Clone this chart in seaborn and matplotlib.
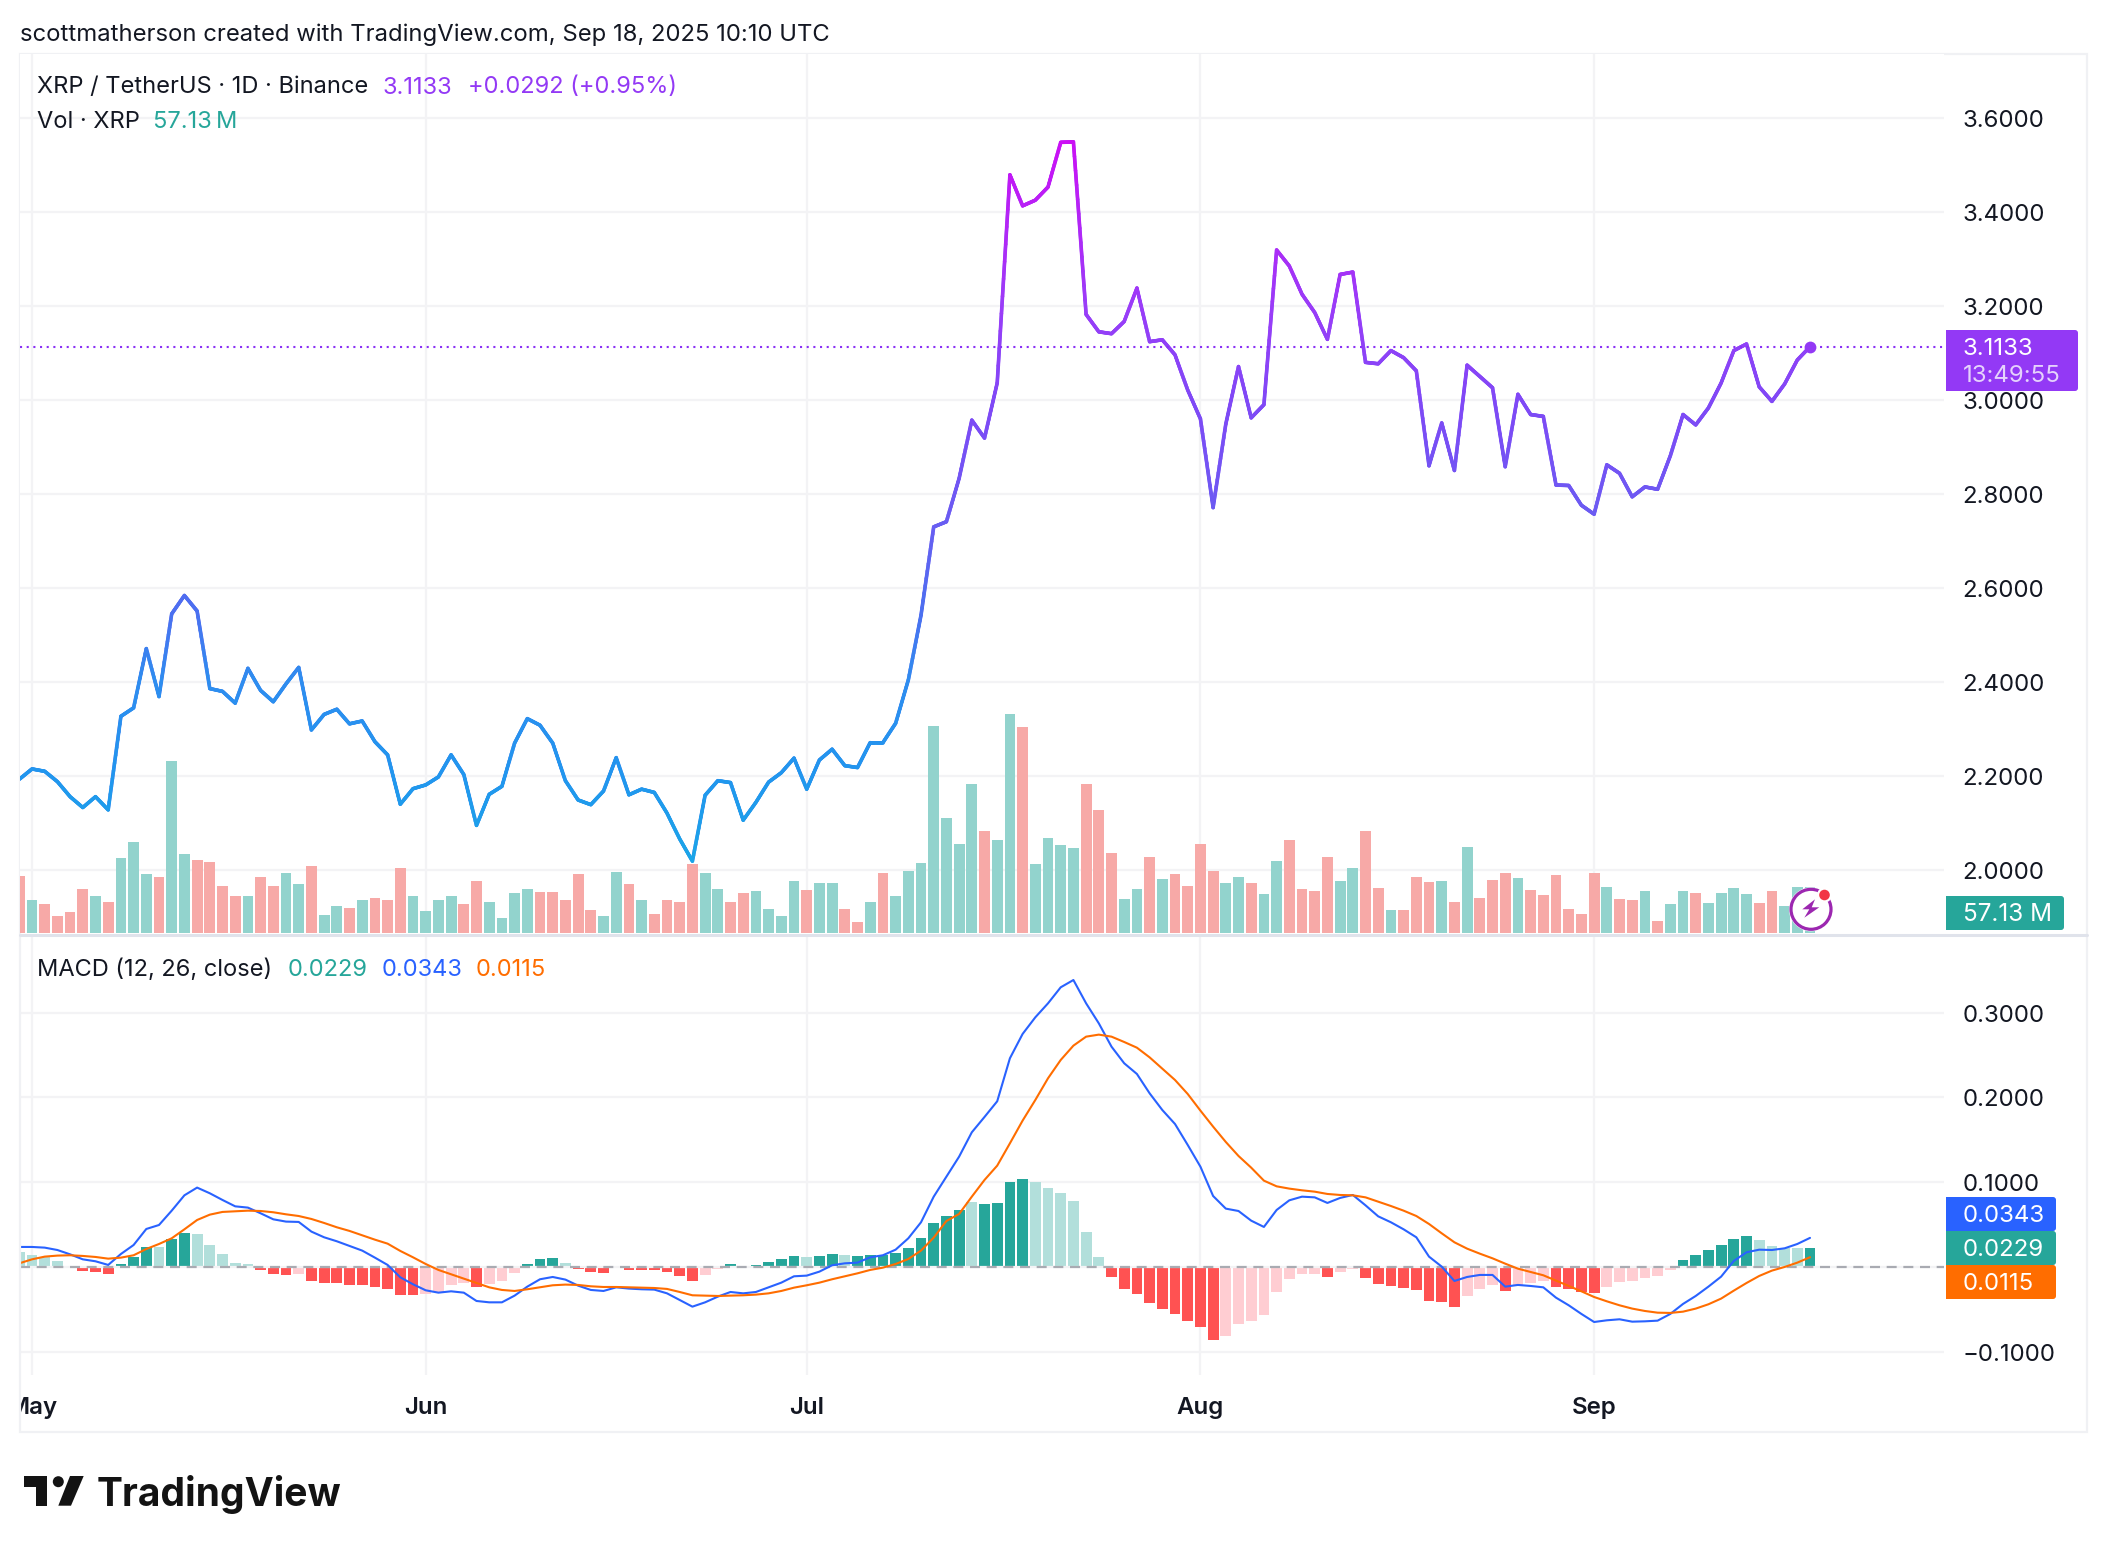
import matplotlib
matplotlib.use("Agg")

import matplotlib.pyplot as plt
import numpy as np
import pandas as pd
import seaborn as sns
from matplotlib.collections import LineCollection
from matplotlib.colors import LinearSegmentedColormap
from matplotlib.lines import Line2D
from matplotlib.patches import Circle, FancyBboxPatch, Polygon, Rectangle
from matplotlib.transforms import Affine2D, Bbox, blended_transform_factory

# daily values, first row starts Apr 30 2025
closes = [
    2.193, 2.215, 2.210, 2.188, 2.156, 2.133, 2.156, 2.128, 2.327, 2.345,
    2.471, 2.369, 2.545, 2.584, 2.551, 2.386, 2.380, 2.355, 2.429, 2.382,
    2.358, 2.396, 2.431, 2.298, 2.331, 2.342, 2.311, 2.317, 2.273, 2.245,
    2.140, 2.173, 2.181, 2.198, 2.245, 2.203, 2.095, 2.161, 2.178, 2.270,
    2.322, 2.308, 2.270, 2.190, 2.149, 2.139, 2.168, 2.239, 2.160, 2.172,
    2.165, 2.121, 2.066, 2.019, 2.159, 2.190, 2.186, 2.106, 2.144, 2.187,
    2.207, 2.238, 2.172, 2.234, 2.257, 2.222, 2.218, 2.271, 2.271, 2.312,
    2.404, 2.542, 2.730, 2.741, 2.833, 2.957, 2.919, 3.036, 3.479, 3.413,
    3.425, 3.453, 3.548, 3.549, 3.182, 3.145, 3.141, 3.167, 3.238, 3.124,
    3.128, 3.096, 3.021, 2.960, 2.771, 2.949, 3.071, 2.962, 2.990, 3.319,
    3.285, 3.225, 3.186, 3.129, 3.267, 3.272, 3.080, 3.077, 3.105, 3.090,
    3.062, 2.860, 2.951, 2.850, 3.074, 3.050, 3.026, 2.858, 3.012, 2.969,
    2.965, 2.819, 2.818, 2.776, 2.757, 2.862, 2.844, 2.794, 2.815, 2.810,
    2.881, 2.969, 2.947, 2.983, 3.036, 3.105, 3.119, 3.028, 2.997, 3.034,
    3.085, 3.1133,
]
volumes = [
    71, 41, 36, 21, 26, 54, 46, 39, 93, 113,
    73, 69, 213, 98, 90, 88, 58, 46, 46, 69,
    58, 74, 61, 83, 22, 34, 31, 41, 43, 41,
    81, 46, 27, 41, 46, 36, 64, 39, 18, 49,
    54, 51, 51, 41, 73, 29, 21, 76, 61, 41,
    24, 41, 38, 86, 74, 55, 39, 50, 52, 30,
    21, 64, 53, 62, 62, 30, 14, 39, 74, 46,
    77, 87, 257, 143, 110, 185, 127, 115, 271, 255,
    86, 118, 109, 105, 185, 153, 99, 42, 55, 94,
    67, 73, 58, 110, 77, 62, 69, 62, 48, 89,
    115, 55, 52, 94, 65, 81, 126, 56, 28, 28,
    69, 63, 64, 39, 107, 44, 66, 74, 68, 53,
    47, 72, 30, 24, 75, 57, 42, 41, 52, 15,
    36, 52, 49, 37, 49, 56, 48, 37, 52, 33,
    57, 57.13,
]
volume_side = list(
    "rgrrrrgrgg" "grggrrrrgr" "rggrggrgrr" "rggggrrggg" "grrrrrggrg"
    "rrrrggrrgg" "ggrggrrgrg" "ggggggrggr" "ggggrrrggr" "grrrrggrgg"
    "rrrrggrrgr" "rrgrgrrrgr" "rrrrrgrrgr" "ggrggggrrg" "gg"
)

macd_line = [
    0.0236, 0.0236, 0.0228, 0.0200, 0.0149, 0.0090, 0.0067, 0.0024, 0.0153, 0.0259,
    0.0448, 0.0495, 0.0664, 0.0845, 0.0936, 0.0869, 0.0790, 0.0715, 0.0700, 0.0633,
    0.0562, 0.0535, 0.0531, 0.0417, 0.0350, 0.0303, 0.0248, 0.0193, 0.0110, 0.0024,
    -0.0122, -0.0204, -0.0275, -0.0303, -0.0287, -0.0303, -0.0401, -0.0417, -0.0417, -0.0338,
    -0.0232, -0.0145, -0.0118, -0.0149, -0.0220, -0.0271, -0.0283, -0.0240, -0.0255, -0.0263,
    -0.0267, -0.0311, -0.0389, -0.0468, -0.0417, -0.0350, -0.0295, -0.0311, -0.0295, -0.0240,
    -0.0185, -0.0110, -0.0102, -0.0055, 0.0020, 0.0043, 0.0051, 0.0114, 0.0138, 0.0204,
    0.0338, 0.0527, 0.0829, 0.1065, 0.1301, 0.1588, 0.1769, 0.1954, 0.2461, 0.2748,
    0.2944, 0.3109, 0.3298, 0.3384, 0.3109, 0.2873, 0.2598, 0.2402, 0.2276, 0.2048,
    0.1851, 0.1686, 0.1439, 0.1183, 0.0837, 0.0688, 0.0660, 0.0546, 0.0472, 0.0672,
    0.0786, 0.0829, 0.0821, 0.0755, 0.0814, 0.0849, 0.0727, 0.0597, 0.0527, 0.0444,
    0.0350, 0.0122, 0.0004, -0.0165, -0.0118, -0.0094, -0.0094, -0.0232, -0.0212, -0.0224,
    -0.0240, -0.0362, -0.0452, -0.0554, -0.0649, -0.0629, -0.0617, -0.0645, -0.0641, -0.0633,
    -0.0554, -0.0436, -0.0342, -0.0232, -0.0114, 0.0071, 0.0173, 0.0204, 0.0200, 0.0220,
    0.0271, 0.0343,
]
signal_line = [
    0.0043, 0.0090, 0.0122, 0.0134, 0.0138, 0.0130, 0.0118, 0.0098, 0.0110, 0.0138,
    0.0212, 0.0271, 0.0338, 0.0444, 0.0554, 0.0617, 0.0649, 0.0656, 0.0664, 0.0660,
    0.0645, 0.0621, 0.0601, 0.0566, 0.0519, 0.0468, 0.0425, 0.0373, 0.0322, 0.0275,
    0.0189, 0.0114, 0.0035, -0.0035, -0.0086, -0.0138, -0.0189, -0.0240, -0.0271, -0.0283,
    -0.0263, -0.0240, -0.0216, -0.0208, -0.0212, -0.0228, -0.0236, -0.0236, -0.0240, -0.0244,
    -0.0248, -0.0259, -0.0295, -0.0334, -0.0338, -0.0342, -0.0338, -0.0334, -0.0326, -0.0311,
    -0.0283, -0.0244, -0.0216, -0.0185, -0.0145, -0.0110, -0.0075, -0.0035, -0.0008, 0.0035,
    0.0094, 0.0193, 0.0346, 0.0542, 0.0625, 0.0829, 0.1026, 0.1195, 0.1458, 0.1726,
    0.1969, 0.2225, 0.2441, 0.2610, 0.2716, 0.2740, 0.2716, 0.2653, 0.2586, 0.2472,
    0.2339, 0.2205, 0.2040, 0.1844, 0.1655, 0.1474, 0.1309, 0.1171, 0.1018, 0.0951,
    0.0924, 0.0904, 0.0888, 0.0861, 0.0849, 0.0845, 0.0821, 0.0770, 0.0719, 0.0664,
    0.0601, 0.0507, 0.0397, 0.0291, 0.0216, 0.0157, 0.0102, 0.0039, -0.0020, -0.0059,
    -0.0098, -0.0161, -0.0224, -0.0287, -0.0354, -0.0405, -0.0452, -0.0491, -0.0519, -0.0539,
    -0.0542, -0.0527, -0.0491, -0.0440, -0.0373, -0.0279, -0.0189, -0.0106, -0.0043, 0.0000,
    0.0051, 0.0115,
]
histogram = [
    0.0177, 0.0142, 0.0114, 0.0071, 0.0005, -0.0047, -0.0059, -0.0083, 0.0035, 0.0118,
    0.0236, 0.0236, 0.0330, 0.0401, 0.0389, 0.0259, 0.0153, 0.0051, 0.0035, -0.0035,
    -0.0083, -0.0094, -0.0083, -0.0165, -0.0189, -0.0189, -0.0212, -0.0212, -0.0236, -0.0259,
    -0.0330, -0.0330, -0.0318, -0.0295, -0.0212, -0.0189, -0.0236, -0.0200, -0.0165, -0.0071,
    0.0035, 0.0094, 0.0106, 0.0047, -0.0024, -0.0059, -0.0071, -0.0008, -0.0035, -0.0035,
    -0.0035, -0.0059, -0.0106, -0.0165, -0.0094, -0.0024, 0.0035, 0.0012, 0.0024, 0.0059,
    0.0094, 0.0130, 0.0118, 0.0130, 0.0153, 0.0142, 0.0130, 0.0142, 0.0142, 0.0165,
    0.0224, 0.0342, 0.0519, 0.0601, 0.0672, 0.0767, 0.0743, 0.0755, 0.1002, 0.1038,
    0.1002, 0.0932, 0.0873, 0.0778, 0.0413, 0.0118, -0.0118, -0.0259, -0.0318, -0.0425,
    -0.0495, -0.0554, -0.0637, -0.0708, -0.0861, -0.0814, -0.0672, -0.0637, -0.0566, -0.0295,
    -0.0142, -0.0083, -0.0083, -0.0118, -0.0059, -0.0024, -0.0130, -0.0200, -0.0224, -0.0248,
    -0.0271, -0.0401, -0.0413, -0.0472, -0.0342, -0.0259, -0.0212, -0.0283, -0.0212, -0.0189,
    -0.0165, -0.0236, -0.0259, -0.0295, -0.0307, -0.0236, -0.0177, -0.0165, -0.0130, -0.0106,
    -0.0035, 0.0083, 0.0142, 0.0200, 0.0259, 0.0330, 0.0366, 0.0318, 0.0248, 0.0224,
    0.0224, 0.0229,
]
histogram_shade = list(
    "lllllrrrgg" "glgglllllr" "rrprrrrrrr" "rrppppr" "pppgggl" "rrrprr" "rrrrppglgg"
    "gglgglgggg" "ggggglggg" "g" "llllllrrrr" "rrrrrppppp" "ppprpprrrr"
    "rrrrppprpp" "prrrrppppp" "pggggggl" "ll" "lg"
)

price_ticks = [2.0, 2.2, 2.4, 2.6, 2.8, 3.0, 3.2, 3.4, 3.6]
macd_ticks = [-0.1, 0.1, 0.2, 0.3]
month_labels = ["May", "Jun", "Jul", "Aug", "Sep"]
month_starts = ["2025-05-01", "2025-06-01", "2025-07-01", "2025-08-01", "2025-09-01"]

W, H = 2108, 1552
INK = "#131722"
GRID = "#F3F3F5"
FRAME = "#F0F1F4"
PURPLE = "#9339F5"
TEAL = "#26A69A"
BLUE = "#2962FF"
ORANGE = "#FF6D00"

sns.set_theme(style="white")
plt.rcParams["font.family"] = ["Inter", "DejaVu Sans"]

first_day = pd.Timestamp("2025-04-30")
may_first = pd.Timestamp("2025-05-01")
days = (pd.date_range(first_day, periods=len(closes)) - may_first).days.to_numpy()
month_days = [(pd.Timestamp(m) - may_first).days for m in month_starts]

price_df = pd.DataFrame({"day": days, "close": closes})
volume_df = pd.DataFrame({"day": days, "volume": volumes, "side": volume_side})
macd_df = pd.DataFrame({
    "day": days,
    "macd": macd_line,
    "signal": signal_line,
    "hist": histogram,
    "shade": histogram_shade,
})

fig = plt.figure(figsize=(W / 100, H / 100), dpi=100, facecolor="white")
# overlay coordinates: image pixels, y going down
px = Affine2D().scale(1, -1).translate(0, H)


def rect(x0, y0, x1, y1):
    return [x0 / W, 1 - y1 / H, (x1 - x0) / W, (y1 - y0) / H]


ax_vol = fig.add_axes(rect(20, 54, 1944, 933))
ax_price = fig.add_axes(rect(20, 54, 1944, 933), sharex=ax_vol)
ax_macd = fig.add_axes(rect(20, 936, 1944, 1375), sharex=ax_vol)
ax_vol.set_zorder(1)
ax_price.set_zorder(2)
ax_price.patch.set_visible(False)

x_range = (-0.945, 150.55)

# volume
sns.barplot(
    data=volume_df, x="day", y="volume", hue="side", native_scale=True, dodge=False,
    palette={"g": "#92D3CD", "r": "#F7A9A7"}, saturation=1, width=0.85, linewidth=0,
    legend=False, errorbar=None, ax=ax_vol,
)
ax_vol.set_ylim(0, 1090)
ax_vol.set_yticks([])

# price line, coloured by level
ax_price.set_ylim(1.866, 3.736)
sns.lineplot(data=price_df, x="day", y="close", color="#7A4FF5", linewidth=2.3, ax=ax_price)
price_cmap = LinearSegmentedColormap.from_list(
    "price",
    [(0.0, "#1AA5E8"), (0.118, "#2196EE"), (0.25, "#2E8DEF"), (0.346, "#4B70F0"),
     (0.477, "#6A5CF2"), (0.64, "#8048F6"), (0.77, "#9A3CF8"), (1.0, "#CC0FF5")],
)
seg_x, seg_y = [], []
for i in range(len(days) - 1):
    seg_x.extend(np.linspace(days[i], days[i + 1], 13)[:-1])
    seg_y.extend(np.linspace(closes[i], closes[i + 1], 13)[:-1])
seg_x.append(days[-1])
seg_y.append(closes[-1])
points = np.column_stack([seg_x, seg_y])
segments = np.stack([points[:-1], points[1:]], axis=1)
gradient = LineCollection(segments, cmap=price_cmap, linewidths=2.6, capstyle="round")
gradient.set_array((segments[:, :, 1].mean(axis=1) - 2.02) / (3.55 - 2.02))
gradient.set_clim(0, 1)
ax_price.add_collection(gradient)
ax_price.axhline(closes[-1], color="#8A30F5", linewidth=1.5, linestyle=(0, (1, 2.2)))
ax_price.plot(days[-1], closes[-1], "o", color=PURPLE, markersize=8.5, markeredgewidth=0)
ax_price.set_yticks(price_ticks, [f"{p:.4f}" for p in price_ticks])

# macd pane
ax_macd.set_ylim(-0.1274, 0.3903)
sns.barplot(
    data=macd_df, x="day", y="hist", hue="shade", native_scale=True, dodge=False,
    palette={"g": TEAL, "l": "#B2DFDB", "r": "#FF5252", "p": "#FFCDD2"}, saturation=1,
    width=0.85, linewidth=0, legend=False, errorbar=None, ax=ax_macd,
)
ax_macd.axhline(0, color=GRID, linewidth=1.6, zorder=1)
ax_macd.axhline(0, color="#787B86", alpha=0.6, linewidth=1.6, linestyle=(0, (4.5, 3)), zorder=3)
sns.lineplot(data=macd_df, x="day", y="macd", color=BLUE, linewidth=1.5, ax=ax_macd, zorder=4)
sns.lineplot(data=macd_df, x="day", y="signal", color=ORANGE, linewidth=1.5, ax=ax_macd, zorder=5)
ax_macd.set_yticks(macd_ticks, ["\u22120.1000" if t < 0 else f"{t:.4f}" for t in macd_ticks])
ax_macd.set_xticks(month_days, month_labels)

# grid: the price grid goes on the volume axes so bars sit on top of it
level_tf = blended_transform_factory(ax_vol.transAxes, ax_price.transData)
for p in price_ticks:
    ax_vol.add_line(Line2D([0, 1], [p, p], transform=level_tf, color=GRID, linewidth=1.6, zorder=0))
for ax in (ax_vol, ax_macd):
    for d in month_days:
        ax.axvline(d, color=GRID, linewidth=1.6, zorder=0)
for t in macd_ticks:
    ax_macd.axhline(t, color=GRID, linewidth=1.6, zorder=0)

for ax in (ax_vol, ax_price, ax_macd):
    ax.set_xlim(*x_range)
    ax.set_xlabel("")
    ax.set_ylabel("")
    sns.despine(ax=ax, left=True, bottom=True, right=True, top=True)
    ax.yaxis.tick_right()
    ax.tick_params(axis="y", length=0, pad=13.5, labelsize=17.3, labelcolor=INK)
    for lab in ax.get_yticklabels():
        lab.set_transform(lab.get_transform() + Affine2D().translate(0, -0.5))
ax_price.tick_params(axis="x", length=0, labelbottom=False)
ax_vol.tick_params(axis="x", length=0, labelbottom=False)
ax_macd.tick_params(axis="x", length=0, pad=15.8, labelsize=17.3, labelcolor=INK)
for lab in ax_macd.get_xticklabels():
    lab.set_fontweight("semibold")
    lab.set_clip_box(Bbox([[20, 0], [W, H]]))
    lab.set_clip_on(True)

# frame and pane divider
fig.add_artist(Rectangle((20, 54), 2067, 1378, transform=px, fill=False, edgecolor=FRAME, linewidth=1.6))
fig.add_artist(Line2D([20, 2087], [934.5, 934.5], transform=px, color="#E0E3EB", linewidth=2.2))


def text(x, y, s, color=INK, size=17, **kw):
    fig.text(x, y, s, transform=px, color=color, fontsize=size, va="center", **kw)


def price_box(x1, y0, y1, color):
    fig.add_artist(FancyBboxPatch((1946, y0), x1 - 1946, y1 - y0, boxstyle="round,pad=0,rounding_size=3",
                                  transform=px, facecolor=color, edgecolor="none", zorder=1.5))
    fig.add_artist(Rectangle((1946, y0), 8, y1 - y0, transform=px, facecolor=color, edgecolor="none", zorder=1.5))


# header and legends
text(20, 34.5, "scottmatherson created with TradingView.com, Sep 18, 2025 10:10 UTC", size=17.17)
text(37, 87.5, "XRP / TetherUS \u00b7 1D \u00b7 Binance")
text(382, 87.5, "3.1133", color=PURPLE)
text(468.5, 87.5, "+0.0292 (+0.95%)", color=PURPLE)
text(37, 122.5, "Vol \u00b7 XRP")
text(153, 122.5, "57.13\u2009M", color=TEAL)
text(37, 969.5, "MACD (12, 26, close)")
text(288, 969.5, "0.0229", color=TEAL)
text(382, 969.5, "0.0343", color=BLUE)
text(476, 969.5, "0.0115", color=ORANGE)

# last value labels on the scale
price_box(2078, 330, 391, PURPLE)
text(1963, 349, "3.1133", color="white", size=17.3)
text(1963, 376.5, "13:49:55", color="#E5D2FC", size=17.3)
price_box(2064, 896, 930, TEAL)
text(1963, 914.5, "57.13 M", color="white", size=17.5)
price_box(2056, 1197, 1231, BLUE)
text(1963, 1215.5, "0.0343", color="white", size=17.3)
price_box(2056, 1231, 1265, TEAL)
text(1963, 1249.5, "0.0229", color="white", size=17.3)
price_box(2056, 1265, 1299, ORANGE)
text(1963, 1283.5, "0.0115", color="white", size=17.3)

# live badge over the last bars
fig.add_artist(Circle((1811, 909.3), 22, transform=px, facecolor="white", edgecolor="none", zorder=2))
fig.add_artist(Circle((1811, 909.3), 20, transform=px, facecolor="white", edgecolor="#9C27B0", linewidth=2.3, zorder=2.1))
fig.add_artist(Polygon(
    [(1815, 899.3), (1802.3, 909.3), (1809.3, 909.3), (1804.3, 917.7), (1819.3, 907.3), (1811.7, 907.3)],
    transform=px, facecolor="#9C27B0", edgecolor="none", zorder=2.2,
))
fig.add_artist(Circle((1824.5, 895), 7.5, transform=px, facecolor="white", edgecolor="none", zorder=2.3))
fig.add_artist(Circle((1824.5, 895), 5.3, transform=px, facecolor="#F23645", edgecolor="none", zorder=2.4))

# TradingView mark
LOGO = "#131313"
fig.add_artist(Polygon([(24, 1476), (46.7, 1476), (46.7, 1505.7), (36, 1505.7), (36, 1487.3), (24, 1487.3)],
                       transform=px, facecolor=LOGO, edgecolor="none"))
fig.add_artist(Circle((58.3, 1481.7), 5.5, transform=px, facecolor=LOGO, edgecolor="none"))
fig.add_artist(Polygon([(70, 1476), (83.7, 1476), (71, 1505.7), (58.3, 1505.7)],
                       transform=px, facecolor=LOGO, edgecolor="none"))
text(97, 1494.5, "TradingView", color=LOGO, size=28.1, fontweight="bold")

fig.savefig("out.png", dpi=100, facecolor="white")
